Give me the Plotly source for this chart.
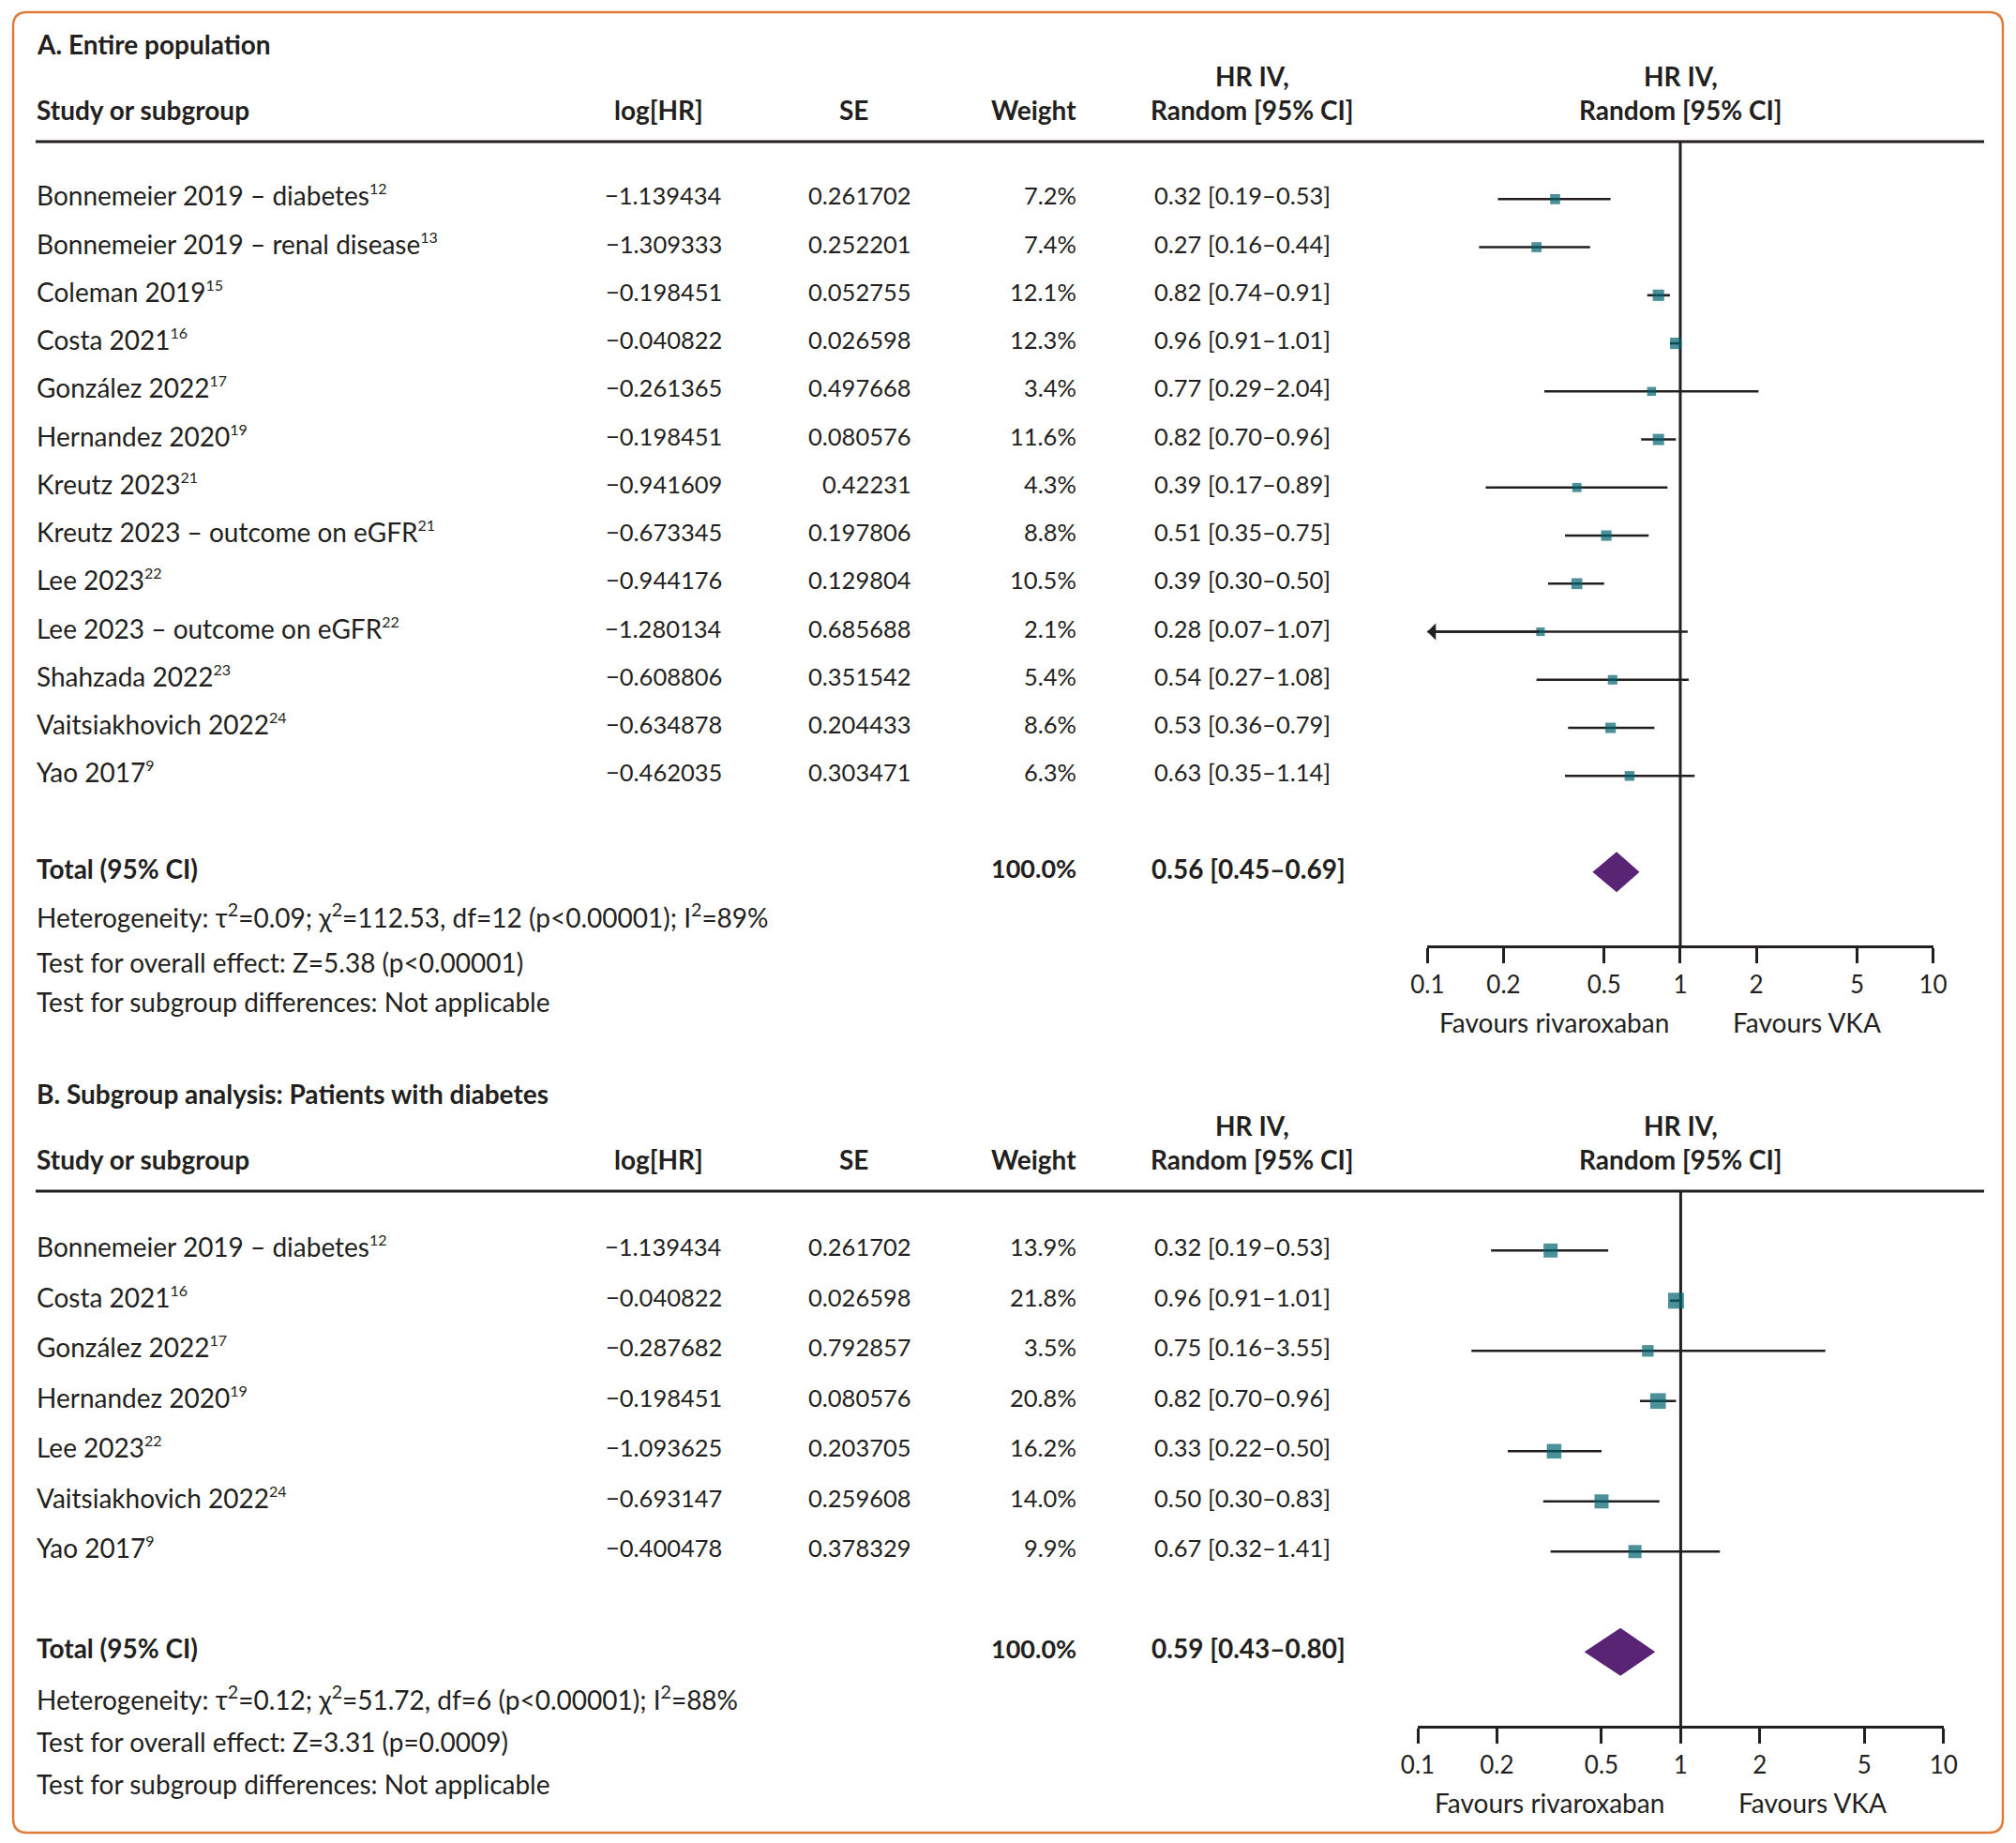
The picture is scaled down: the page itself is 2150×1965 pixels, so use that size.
import numpy as np
import plotly.graph_objects as go

# ---------------- DATA ----------------
tick_vals = [0.1, 0.2, 0.5, 1, 2, 5, 10]
tick_text = ["0.1", "0.2", "0.5", "1", "2", "5", "10"]

# Panel A: entire population
title_a = "A. Entire population"
studies_a = ["Bonnemeier 2019 – diabetes", "Bonnemeier 2019 – renal disease", "Coleman 2019",
             "Costa 2021", "González 2022", "Hernandez 2020", "Kreutz 2023",
             "Kreutz 2023 – outcome on eGFR", "Lee 2023", "Lee 2023 – outcome on eGFR",
             "Shahzada 2022", "Vaitsiakhovich 2022", "Yao 2017"]
refs_a = ["12", "13", "15", "16", "17", "19", "21", "21", "22", "22", "23", "24", "9"]
loghr_a = [-1.139434, -1.309333, -0.198451, -0.040822, -0.261365, -0.198451, -0.941609,
           -0.673345, -0.944176, -1.280134, -0.608806, -0.634878, -0.462035]
se_a = [0.261702, 0.252201, 0.052755, 0.026598, 0.497668, 0.080576, 0.42231,
        0.197806, 0.129804, 0.685688, 0.351542, 0.204433, 0.303471]
weight_a = [7.2, 7.4, 12.1, 12.3, 3.4, 11.6, 4.3, 8.8, 10.5, 2.1, 5.4, 8.6, 6.3]
hr_a = [0.32, 0.27, 0.82, 0.96, 0.77, 0.82, 0.39, 0.51, 0.39, 0.28, 0.54, 0.53, 0.63]
lo_a = [0.19, 0.16, 0.74, 0.91, 0.29, 0.70, 0.17, 0.35, 0.30, 0.07, 0.27, 0.36, 0.35]
hi_a = [0.53, 0.44, 0.91, 1.01, 2.04, 0.96, 0.89, 0.75, 0.50, 1.07, 1.08, 0.79, 1.14]
total_a = [0.56, 0.45, 0.69]
stats_a = ["Heterogeneity: τ<sup>2</sup>=0.09; χ<sup>2</sup>=112.53, df=12 (p&lt;0.00001); I<sup>2</sup>=89%",
           "Test for overall effect: Z=5.38 (p&lt;0.00001)",
           "Test for subgroup differences: Not applicable"]

# Panel B: patients with diabetes
title_b = "B. Subgroup analysis: Patients with diabetes"
studies_b = ["Bonnemeier 2019 – diabetes", "Costa 2021", "González 2022", "Hernandez 2020",
             "Lee 2023", "Vaitsiakhovich 2022", "Yao 2017"]
refs_b = ["12", "16", "17", "19", "22", "24", "9"]
loghr_b = [-1.139434, -0.040822, -0.287682, -0.198451, -1.093625, -0.693147, -0.400478]
se_b = [0.261702, 0.026598, 0.792857, 0.080576, 0.203705, 0.259608, 0.378329]
weight_b = [13.9, 21.8, 3.5, 20.8, 16.2, 14.0, 9.9]
hr_b = [0.32, 0.96, 0.75, 0.82, 0.33, 0.50, 0.67]
lo_b = [0.19, 0.91, 0.16, 0.70, 0.22, 0.30, 0.32]
hi_b = [0.53, 1.01, 3.55, 0.96, 0.50, 0.83, 1.41]
total_b = [0.59, 0.43, 0.80]
stats_b = ["Heterogeneity: τ<sup>2</sup>=0.12; χ<sup>2</sup>=51.72, df=6 (p&lt;0.00001); I<sup>2</sup>=88%",
           "Test for overall effect: Z=3.31 (p=0.0009)",
           "Test for subgroup differences: Not applicable"]

headers = ["Study or subgroup", "log[HR]", "SE", "Weight", "Random [95% CI]"]
header_top = "HR IV,"
favours = ["Favours rivaroxaban", "Favours VKA"]
total_label = "Total (95% CI)"
total_weight = "100.0%"

# ---------------- STYLE ----------------
W, H = 2150, 1965
FONT = "Lato"
FS = 28          # word text
FN = 25.5        # numeric columns
FT = 26          # tick labels
SUP = 16
TXT = "#231F20"
TEAL = "#00636F"
PURPLE = "#5A2474"
ORANGE = "#E07B39"

def py(p):
    return 1 - p / H

def px(p):
    return p / W

def fmt(v):
    return str(v).replace("-", "−")

def sup(s):
    return f"<sup><span style='font-size:{SUP}px'>{s}</span></sup>"

panels = [
    dict(key="", title=title_a, studies=studies_a, refs=refs_a, loghr=loghr_a, se=se_a,
         weight=weight_a, hr=hr_a, lo=lo_a, hi=hi_a, total=total_a, stats=stats_a,
         top=0, line=151, axis=1008, row0=212.3, step=51.25, x0=1522.3, x1=2061.6,
         msize=(8.5, 0.3), dh=21.5, stat_y=[976.7, 1025.7, 1068.3]),
    dict(key="2", title=title_b, studies=studies_b, refs=refs_b, loghr=loghr_b, se=se_b,
         weight=weight_b, hr=hr_b, lo=lo_b, hi=hi_b, total=total_b, stats=stats_b,
         top=1119, line=1270, axis=1840, row0=1333.3, step=53.5, x0=1512, x1=2072.8,
         msize=(11.5, 0.25), dh=25.5, stat_y=[1810, 1856.7, 1901.7]),
]

fig = go.Figure()
annotations = []
shapes = []

def ann(text, x, y, xanchor="left", bold=False, yref="paper", xref="paper", size=FS, yanchor="middle"):
    annotations.append(dict(
        text=f"<b>{text}</b>" if bold else text, x=x, y=y, xref=xref, yref=yref,
        xanchor=xanchor, yanchor=yanchor, showarrow=False, borderpad=0,
        font=dict(family=FONT, size=size, color=TXT)))

for P in panels:
    k = P["key"]
    xa, ya = "x" + k, "y" + k
    n = len(P["studies"])
    r_top = (P["line"] - P["row0"]) / P["step"]
    r_bot = (P["axis"] - P["row0"]) / P["step"]
    total_row = n + 1
    txt_off = -4 / P["step"]
    rows = list(range(n))

    # CI lines
    xs, ys = [], []
    for i in rows:
        xs += [P["lo"][i], P["hi"][i], None]
        ys += [i, i, None]
    fig.add_trace(go.Scatter(x=xs, y=ys, mode="lines", xaxis=xa, yaxis=ya,
                             line=dict(color=TXT, width=2.6), hoverinfo="skip", showlegend=False))
    # reference line at HR = 1
    fig.add_trace(go.Scatter(x=[1, 1], y=[r_top, r_bot], mode="lines", xaxis=xa, yaxis=ya,
                             line=dict(color=TXT, width=3), hoverinfo="skip", showlegend=False,
                             cliponaxis=False))
    # study markers
    a, b = P["msize"]
    fig.add_trace(go.Scatter(x=P["hr"], y=rows, mode="markers", xaxis=xa, yaxis=ya,
                             marker=dict(symbol="square", color=TEAL,
                                         size=[a + b * w for w in P["weight"]], line=dict(width=0)),
                             hoverinfo="skip", showlegend=False))
    # pooled diamond
    hr_t, lo_t, hi_t = P["total"]
    h = P["dh"] / P["step"]
    fig.add_trace(go.Scatter(x=[lo_t, hr_t, hi_t, hr_t, lo_t],
                             y=[total_row, total_row - h, total_row, total_row + h, total_row],
                             mode="lines", fill="toself", fillcolor=PURPLE, xaxis=xa, yaxis=ya,
                             line=dict(color=PURPLE, width=0), hoverinfo="skip", showlegend=False))
    # arrows where CI exceeds the axis
    for i in rows:
        if P["lo"][i] < tick_vals[0]:
            annotations.append(dict(x=np.log10(tick_vals[0]), y=i, ax=np.log10(P["hr"][i]), ay=i,
                                    xref=xa, yref=ya, axref=xa, ayref=ya, text="", showarrow=True,
                                    arrowhead=1, arrowsize=1.15, arrowwidth=2.6, arrowcolor=TXT,
                                    standoff=0, startstandoff=0))

    # axes
    fig.update_layout(**{
        "xaxis" + k: dict(type="log", range=[-1, 1], domain=[px(P["x0"]), px(P["x1"])],
                          anchor=ya, tickvals=tick_vals, ticktext=tick_text, ticks="outside",
                          ticklen=16, tickwidth=3, tickcolor=TXT, showline=True, linewidth=3,
                          linecolor=TXT, showgrid=False, zeroline=False, automargin=False,
                          tickfont=dict(family=FONT, size=FT, color=TXT), ticklabelstandoff=1),
        "yaxis" + k: dict(range=[r_bot, r_top], domain=[py(P["axis"]), py(P["line"])],
                          anchor=xa, visible=False, showgrid=False, zeroline=False,
                          automargin=False),
    })

    T = P["top"]
    # titles & headers
    ann(P["title"], px(38), py(46.6 + T), bold=True)
    ann(header_top, px(1335), py(81 + T), xanchor="center", bold=True)
    ann(header_top, px(1792), py(81 + T), xanchor="center", bold=True)
    hy = py(116.7 + T)
    ann(headers[0], px(38), hy, bold=True)
    ann(headers[1], px(702), hy, xanchor="center", bold=True)
    ann(headers[2], px(910), hy, xanchor="center", bold=True)
    ann(headers[3], px(1149), hy, xanchor="right", bold=True)
    ann(headers[4], px(1335), hy, xanchor="center", bold=True)
    ann(headers[4], px(1792), hy, xanchor="center", bold=True)
    shapes.append(dict(type="line", xref="paper", yref="paper", x0=px(38), x1=px(2116),
                       y0=py(P["line"]), y1=py(P["line"]), line=dict(color=TXT, width=3)))

    # rows
    for i in rows:
        yy = i + txt_off
        ann(f"{P['studies'][i]}{sup(P['refs'][i])}", px(38), yy, yref=ya)
        ann(fmt(P["loghr"][i]), px(771), yy, xanchor="right", yref=ya, size=FN)
        ann(fmt(P["se"][i]), px(973), yy, xanchor="right", yref=ya, size=FN)
        ann(f"{P['weight'][i]:.1f}%", px(1149), yy, xanchor="right", yref=ya, size=FN)
        ann(f"{P['hr'][i]:.2f} [{P['lo'][i]:.2f}–{P['hi'][i]:.2f}]", px(1230), yy, yref=ya, size=FN)
    yy = total_row + txt_off
    ann(total_label, px(38), yy, yref=ya, bold=True)
    ann(total_weight, px(1149), yy, xanchor="right", yref=ya, bold=True, size=27)
    ann(f"{hr_t:.2f} [{lo_t:.2f}–{hi_t:.2f}]", px(1227), yy, yref=ya, bold=True)

    for s, sy in zip(P["stats"], P["stat_y"]):
        ann(s, px(38), py(sy))

    # favours labels
    for j, f in enumerate(favours):
        annotations.append(dict(text=f, x=0.25 + 0.5 * j, y=0, xref=xa + " domain", yref=ya + " domain",
                                xanchor="center", yanchor="middle", yshift=-82, showarrow=False,
                                font=dict(family=FONT, size=FS, color=TXT)))

# rounded border
rx, ry = 15 / W, 15 / H
L, R, Tp, B = px(14), px(2136), py(13), py(1954)
path = (f"M {L + rx},{Tp} L {R - rx},{Tp} Q {R},{Tp} {R},{Tp - ry} L {R},{B + ry} "
        f"Q {R},{B} {R - rx},{B} L {L + rx},{B} Q {L},{B} {L},{B + ry} L {L},{Tp - ry} "
        f"Q {L},{Tp} {L + rx},{Tp} Z")
shapes.append(dict(type="path", path=path, xref="paper", yref="paper",
                   line=dict(color=ORANGE, width=2.5)))

fig.update_layout(width=W, height=H, margin=dict(l=0, r=0, t=0, b=0, pad=0, autoexpand=False),
                  paper_bgcolor="white", plot_bgcolor="rgba(0,0,0,0)",
                  annotations=annotations, shapes=shapes, showlegend=False,
                  font=dict(family=FONT, size=FS, color=TXT))

fig.write_html("out.html", config={"displayModeBar": False, "staticPlot": True},
               post_script="document.body.style.margin='0';document.body.style.padding='0';"
                           "document.documentElement.style.overflow='hidden';")
